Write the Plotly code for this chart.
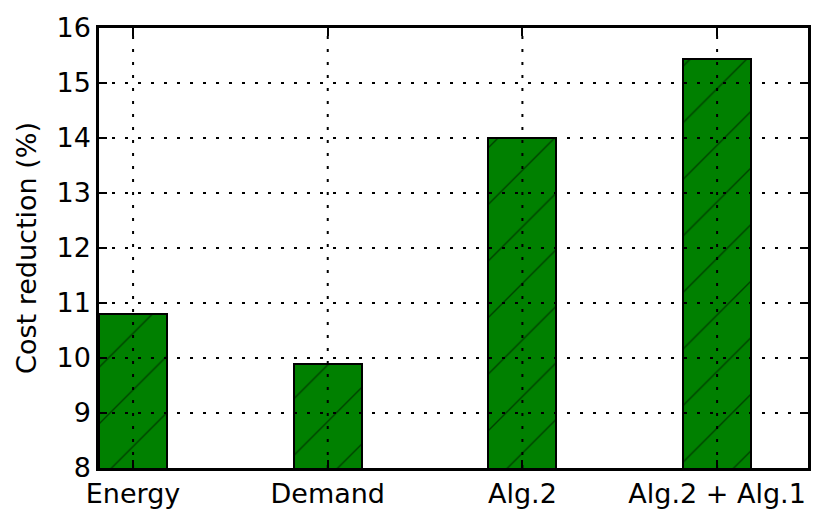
import plotly.graph_objects as go

categories = ["Energy", "Demand", "Alg.2", "Alg.2 + Alg.1"]
cost_reduction = [10.8, 9.9, 14.0, 15.43]
y_ticks = [8, 9, 10, 11, 12, 13, 14, 15, 16]

x_pos = list(range(len(categories)))

fig = go.Figure()
fig.add_trace(go.Bar(
    x=x_pos,
    y=cost_reduction,
    width=0.35,
    marker=dict(
        color="#008000",
        line=dict(color="black", width=2),
        pattern=dict(shape="/", fgcolor="black", bgcolor="#008000", size=40, solidity=0.035),
    ),
))

# grid drawn as shapes so it sits on top of the bars, like matplotlib
grid = dict(color="black", width=2, dash="3px,10px")
for v in y_ticks[1:-1]:
    fig.add_shape(type="line", xref="paper", yref="y", x0=0, x1=1, y0=v, y1=v,
                  line=grid, layer="above")
for p in x_pos:
    fig.add_shape(type="line", xref="x", yref="paper", x0=p, x1=p, y0=0, y1=1,
                  line=grid, layer="above")

# page body adds ~8px offset, so margins are shifted to compensate
fig.update_layout(
    width=830, height=522,
    margin=dict(l=91, r=30, t=20, b=62, autoexpand=False),
    plot_bgcolor="white", paper_bgcolor="white",
    font=dict(family="DejaVu Sans", size=27, color="black"),
    showlegend=False,
    bargap=0,
)
fig.update_xaxes(
    range=[-0.175, 3.467],
    tickvals=x_pos, ticktext=categories,
    showline=True, linecolor="black", linewidth=2.5, mirror="ticks",
    ticks="inside", ticklen=8, tickcolor="black", tickwidth=1.5,
    showgrid=False, layer="above traces", zeroline=False, automargin=False,
)
fig.update_yaxes(
    range=[8, 16], tickvals=y_ticks,
    title=dict(text="Cost reduction (%)", font=dict(size=27), standoff=13),
    showline=True, linecolor="black", linewidth=2.5, mirror="ticks",
    ticks="inside", ticklen=8, tickcolor="black", tickwidth=1.5,
    showgrid=False, layer="above traces", zeroline=False, automargin=False,
)

fig.write_html("out.html")
